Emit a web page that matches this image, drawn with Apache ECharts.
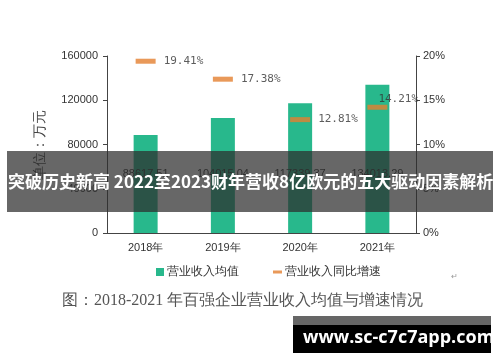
<!DOCTYPE html>
<html><head><meta charset="utf-8">
<script src="https://cdn.jsdelivr.net/npm/echarts@6/dist/echarts.min.js"></script>
<style>html,body{margin:0;padding:0;background:#fff}#c{width:500px;height:362px}</style>
</head><body><div id="c"></div>
<script>
const categories = ['2018年','2019年','2020年','2021年'];
const revenueAvg = [88617.51, 104015.04, 117339.37, 134013.29];
const growthRate = [19.41, 17.38, 12.81, 14.21];
const leftTicks = [0, 40000, 80000, 120000, 160000];
const rightTicks = [0, 5, 10, 15, 20];
const seriesNames = ['营业收入均值', '营业收入同比增速'];
const titleText = '突破历史新高 2022至2023财年营收8亿欧元的五大驱动因素解析';
const captionText = '图：2018-2021 年百强企业营业收入均值与增速情况';
const watermarkText = 'www.sc-c7c7app.com';

const chart = echarts.init(document.getElementById('c'), null, {renderer:'canvas'});
const axisColor = '#444';
const txt = '#333';
const growthData = growthRate.map((v,i) => {
  const d = {value: v};
  if (i === 3) d.label = {position: [11, -6], align: 'left', verticalAlign: 'middle'};
  return d;
});
chart.setOption({
  animation: false,
  backgroundColor: '#fff',
  grid: {left: 107, right: 84, top: 56, bottom: 129},
  legend: [
    {data: [{name: seriesNames[0], icon: 'rect'}], left: 151, top: 261, itemWidth: 8, itemHeight: 8, itemGap: 4,
     textStyle: {fontSize: 12, color: txt, padding: [0,0,0,-2]}},
    {data: [{name: seriesNames[1], icon: 'rect'}], left: 268, top: 261, itemWidth: 9, itemHeight: 3, itemGap: 4,
     textStyle: {fontSize: 12, color: txt, padding: [0,0,0,-2]}}
  ],
  xAxis: {
    type: 'category', data: categories, boundaryGap: true,
    axisLine: {lineStyle: {color: axisColor, width: 1}},
    axisTick: {inside: true, length: 4, lineStyle: {color: axisColor}},
    axisLabel: {color: txt, fontSize: 11, margin: 9}
  },
  yAxis: [
    {type: 'value', min: leftTicks[0], max: leftTicks[leftTicks.length-1], interval: 40000,
     name: '单位：万元', nameLocation: 'middle', nameGap: 60, nameRotate: 90,
     nameTextStyle: {fontSize: 14, color: '#444'},
     axisLine: {show: true, lineStyle: {color: axisColor}},
     axisTick: {show: true, length: 4, lineStyle: {color: axisColor}},
     axisLabel: {color: txt, fontSize: 11, margin: 9, formatter: v => String(v)},
     splitLine: {show: false}},
    {type: 'value', min: rightTicks[0], max: rightTicks[rightTicks.length-1], interval: 5,
     axisLine: {show: true, lineStyle: {color: axisColor}},
     axisTick: {show: true, length: 4, lineStyle: {color: axisColor}},
     axisLabel: {color: txt, fontSize: 11, margin: 7, formatter: '{value}%'},
     splitLine: {show: false}}
  ],
  series: [
    {name: seriesNames[0], type: 'bar', data: revenueAvg, barWidth: 24, yAxisIndex: 0,
     itemStyle: {color: '#28b88c'},
     label: {show: true, position: 'insideBottom', distance: 54, color: '#333', fontSize: 11,
             formatter: p => p.value.toFixed(2)}},
    {name: seriesNames[1], type: 'scatter', data: growthData, yAxisIndex: 1,
     symbol: 'rect', symbolSize: [20, 5], itemStyle: {color: '#e3802f'}, z: 5,
     label: {show: true, position: 'right', distance: 8, color: '#333', fontSize: 11,
             fontFamily: 'DejaVu Sans Mono', formatter: p => p.value.toFixed(2) + '%'}}
  ],
  graphic: [
    {type: 'text', left: 62, top: 293, style: {text: captionText, fill: '#555', fontSize: 16, fontFamily: 'serif'}},
    {type: 'text', left: 451, top: 273, style: {text: '↵', fill: '#999', fontSize: 8}},
    {type: 'rect', left: 7, top: 151, shape: {width: 486, height: 61}, style: {fill: 'rgba(45,45,45,0.72)'}, z: 100},
    {type: 'text', left: 8, top: 173, z: 101, style: {text: titleText, fill: '#fff', fontSize: 17, fontWeight: 'bold', fontFamily: 'Noto Sans CJK SC'}},
    {type: 'rect', left: 293, top: 316, shape: {width: 198, height: 9}, style: {fill: '#666'}, z: 100},
    {type: 'rect', left: 293, top: 325, shape: {width: 198, height: 28}, style: {fill: '#000'}, z: 100},
    {type: 'text', left: 303, top: 329, z: 101, style: {text: watermarkText, fill: '#fff', fontSize: 18, fontWeight: 'bold', fontFamily: 'Open Sans'}}
  ]
});
</script></body></html>
